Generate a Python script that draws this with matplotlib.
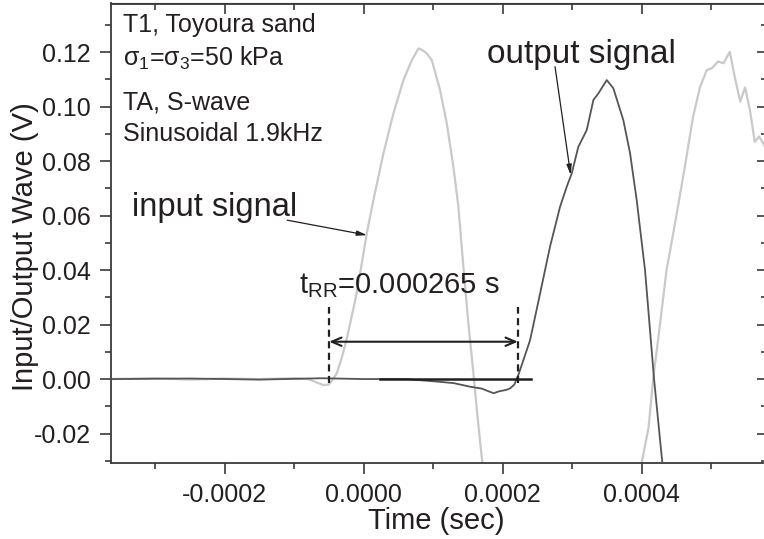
import numpy as np
import matplotlib
matplotlib.use('Agg')
import matplotlib.pyplot as plt
from matplotlib.ticker import MultipleLocator, FormatStrFormatter, NullFormatter

plt.rcParams['font.family'] = ['Liberation Sans', 'DejaVu Sans']
plt.rcParams['mathtext.fontset'] = 'custom'
plt.rcParams['mathtext.rm'] = 'Liberation Sans'
plt.rcParams['mathtext.it'] = 'Liberation Sans:italic'
plt.rcParams['axes.unicode_minus'] = False

# time in microseconds, amplitude in volts
t_in = [-365, -300, -250, -200, -150, -100, -80, -70, -58, -50, -44, -38.6, -31, -25,
        -19.4, -12, -5, 4.6, 14.1, 28.5, 42.9, 57.3, 69.4, 78.9, 84, 90.9, 98.1, 110,
        119.7, 129.2, 136.4, 143.6, 150.8, 158, 164, 171, 180, 390, 400, 410, 417, 427,
        436, 446, 455, 465, 474, 484, 494, 501, 510, 518, 527, 534, 542, 549, 556, 563,
        569, 575, 582]
v_in = [0.0, 0.0003, -0.0002, 0.0002, 0.0, 0.0003, 0.0, -0.001, -0.0022, -0.002, 0.0,
        0.0021, 0.0082, 0.014, 0.0204, 0.029, 0.0388, 0.0535, 0.0657, 0.0828, 0.0975,
        0.1097, 0.117, 0.1213, 0.1208, 0.1195, 0.117, 0.106, 0.0938, 0.0779, 0.0632,
        0.0412, 0.0204, 0.0021, -0.014, -0.031, -0.05, -0.05, -0.031, -0.018, 0.0007,
        0.021, 0.040, 0.054, 0.067, 0.082, 0.096, 0.107, 0.1134, 0.114, 0.1165, 0.1159,
        0.1201, 0.111, 0.1018, 0.107, 0.0987, 0.087, 0.089, 0.0865, 0.083]

t_out = [-365, -250, -150, -60, 0, 60, 100, 130, 153, 170, 180, 187, 195, 205, 211, 217,
         222.7, 230, 239.6, 254, 268.3, 282.7, 292.4, 299.6, 309, 321.2, 330.7, 337.9,
         349.9, 359.4, 373.8, 383.5, 393, 405, 418, 430, 440]
v_out = [0.0, 0.0002, -0.0002, 0.0003, 0.0, 0.0, -0.0008, -0.0015, -0.0028, -0.0035,
         -0.0045, -0.0052, -0.0045, -0.004, -0.0034, -0.002, 0.0015, 0.007, 0.0143,
         0.0314, 0.0486, 0.0632, 0.0706, 0.0755, 0.0852, 0.0914, 0.1024, 0.1048, 0.1097,
         0.1067, 0.095, 0.0828, 0.0657, 0.040, 0.0, -0.031, -0.05]

t_in = np.array(t_in) * 1e-6
t_out = np.array(t_out) * 1e-6

# t_RR markers (s)
t_start = -49.6e-6
t_end = 222e-6

txt = '#231f20'
W, H = 764, 539
fig = plt.figure(figsize=(W / 100, H / 100), dpi=100)
ax = fig.add_axes([110.7 / W, 1 - 463 / H, (768 - 110.7) / W, (463 - 3.5) / H])

ax.plot(t_in, v_in, color='#c9c9c9', lw=1.6, zorder=2)
ax.plot(t_out, v_out, color='#555555', lw=1.3, zorder=3)

ax.set_xlim(-364e-6, 582e-6)
ax.set_ylim(-0.0308, 0.1378)

# annotations
ax.plot([24e-6, 241e-6], [0, 0], color='#231f20', lw=1.8, zorder=4)
for t in (t_start, t_end):
    ax.plot([t, t], [-0.0015, 0.0265], color='#231f20', lw=1.6,
            linestyle=(0, (3.2, 2)), zorder=4)
ax.annotate('', xy=(t_end, 0.0137), xytext=(t_start, 0.0137),
            arrowprops=dict(arrowstyle='<->,head_length=0.7,head_width=0.3',
                            color='#231f20', lw=1.5, shrinkA=0, shrinkB=0))
ax.text(-93e-6, 0.0315, r't$_{\mathrm{RR}}$=0.000265 s', fontsize=21, color=txt)

ax.annotate('', xy=(5e-6, 0.0528), xytext=(-110e-6, 0.0583),
            arrowprops=dict(arrowstyle='-|>,head_length=0.6,head_width=0.15',
                            color='#231f20', lw=0.9, shrinkA=0, shrinkB=0))
ax.text(-333e-6, 0.0598, 'input signal', fontsize=23.5, color=txt)
ax.annotate('', xy=(298e-6, 0.0749), xytext=(275.5e-6, 0.1146),
            arrowprops=dict(arrowstyle='-|>,head_length=0.6,head_width=0.15',
                            color='#231f20', lw=0.9, shrinkA=0, shrinkB=0))
ax.text(177.7e-6, 0.1159, 'output signal', fontsize=24, color=txt)

ax.text(-346e-6, 0.1273, 'T1, Toyoura sand', fontsize=18, color=txt)
ax.text(-346e-6, 0.1150, r'σ$_{1}$=σ$_{3}$=50 kPa', fontsize=18, color=txt)
ax.text(-346e-6, 0.0990, 'TA, S-wave', fontsize=18, color=txt)
ax.text(-346e-6, 0.0873, 'Sinusoidal 1.9kHz', fontsize=18, color=txt)

# axes styling
spine_c = '#3a3a3a'
for s in ax.spines.values():
    s.set_color(spine_c)
    s.set_linewidth(1.3)

ax.xaxis.set_major_locator(MultipleLocator(2e-4))
ax.xaxis.set_minor_locator(MultipleLocator(1e-4))
ax.xaxis.set_major_formatter(FormatStrFormatter('%.4f'))
ax.yaxis.set_major_locator(MultipleLocator(0.02))
ax.yaxis.set_minor_locator(MultipleLocator(0.01))
ax.yaxis.set_major_formatter(FormatStrFormatter('%.2f'))
ax.tick_params(which='both', direction='out', color=spine_c, width=1.2,
               labelsize=18, labelcolor=txt, pad=6.5)
ax.tick_params(which='major', length=8)
ax.tick_params(which='minor', length=4.5)

# inward ticks on the top and right sides
secx = ax.secondary_xaxis('top')
secx.xaxis.set_major_locator(MultipleLocator(2e-4))
secx.xaxis.set_minor_locator(MultipleLocator(1e-4))
secx.xaxis.set_major_formatter(NullFormatter())
secx.tick_params(which='both', direction='in', color=spine_c, width=1.2)
secx.tick_params(which='major', length=8)
secx.tick_params(which='minor', length=5)
secx.spines['top'].set_color(spine_c)
secy = ax.secondary_yaxis('right')
secy.yaxis.set_major_locator(MultipleLocator(0.02))
secy.yaxis.set_minor_locator(MultipleLocator(0.01))
secy.yaxis.set_major_formatter(NullFormatter())
secy.tick_params(which='both', direction='in', color=spine_c, width=1.2)
secy.tick_params(which='major', length=8)
secy.tick_params(which='minor', length=5)

ax.set_xlabel('Time (sec)', fontsize=21, color=txt)
ax.set_ylabel('Input/Output Wave (V)', fontsize=21, color=txt)
ax.xaxis.set_label_coords(0.496, -0.0958)
ax.yaxis.set_label_coords(-0.109, 0.471)

fig.savefig('out.png', dpi=100)
